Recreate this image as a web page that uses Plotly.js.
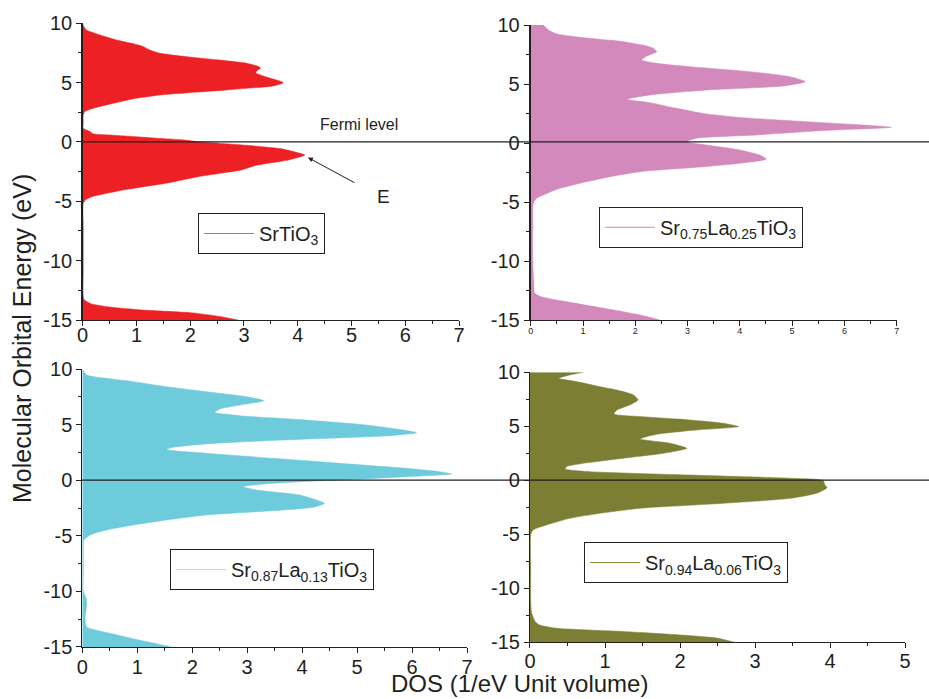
<!DOCTYPE html>
<html>
<head>
<meta charset="utf-8">
<script src="https://cdn.plot.ly/plotly-3.0.1.min.js"></script>
<style>html,body{margin:0;padding:0;background:#fff;}#chart{width:929px;height:699px;}</style>
</head>
<body>
<div id="chart"></div>
<script>
// ---- Data ----
const seriesNames = [
  "SrTiO<sub>3</sub>",
  "Sr<sub>0.75</sub>La<sub>0.25</sub>TiO<sub>3</sub>",
  "Sr<sub>0.87</sub>La<sub>0.13</sub>TiO<sub>3</sub>",
  "Sr<sub>0.94</sub>La<sub>0.06</sub>TiO<sub>3</sub>"
];

const energySrTiO3 = [10, 9.72, 9.44, 9.02, 8.6, 8.31, 8.03, 7.75, 7.47, 7.19,
  6.9, 6.63, 6.35, 6.2, 6.05, 5.84, 5.5, 5.2, 5.0, 4.72,
  4.52, 4.38, 3.96, 3.68, 3.5, 3.26, 2.84, 2.56, 2.2, 1.6,
  1.15, 0.87, 0.7, 0.59, 0.42, 0.3, 0.2, 0.05, -0.28, -0.56,
  -0.81, -1.1, -1.5, -1.8, -2.0, -2.36, -2.92, -3.48, -4.05, -4.33,
  -4.62, -4.89, -5.2, -7, -9, -11, -13.0, -13.3, -13.6, -13.9,
  -14.16, -14.4, -14.7, -15];
const dosSrTiO3 = [0, 0.02, 0.07, 0.32, 0.63, 0.91, 1.13, 1.25, 1.44, 1.93,
  2.55, 3.05, 3.27, 3.31, 3.25, 3.22, 3.4, 3.62, 3.73, 3.54,
  3.05, 2.68, 1.44, 1.0, 0.8, 0.57, 0.2, 0.04, 0.01, 0.01,
  0.01, 0.14, 0.19, 0.5, 1.07, 1.44, 1.8, 2.1, 3.05, 3.67,
  3.92, 4.13, 3.85, 3.45, 3.2, 2.95, 2.15, 1.55, 0.75, 0.45,
  0.17, 0.05, 0.01, 0.01, 0.01, 0.01, 0.01, 0.03, 0.14, 0.5,
  1.13, 2.05, 2.55, 2.89];

const energyLa25 = [10, 9.58, 9.24, 8.87, 8.59, 8.3, 8.02, 7.74, 7.37, 7.03,
  6.75, 6.47, 6.05, 5.62, 5.2, 4.83, 4.49, 4.07, 3.7, 3.42,
  2.94, 2.51, 2.17, 1.81, 1.53, 1.33, 1.05, 0.68, 0.4, 0.11,
  -0.17, -0.59, -1.02, -1.36, -1.72, -2.06, -2.43, -2.85, -3.28, -3.84,
  -4.27, -4.69, -5.11, -7, -10.2, -11.9, -12.7, -13.0, -13.4, -13.8,
  -14.3, -14.7, -15];
const dosLa25 = [0.24, 0.34, 0.5, 1.13, 1.77, 2.15, 2.35, 2.41, 2.22, 2.12,
  2.41, 3.05, 4.19, 4.96, 5.25, 4.83, 3.37, 2.28, 1.84, 2.28,
  2.79, 3.3, 4.0, 5.28, 6.36, 6.9, 5.6, 4.32, 3.17, 2.98,
  3.37, 4.0, 4.38, 4.51, 4.0, 3.17, 2.09, 1.52, 1.07, 0.56,
  0.31, 0.11, 0.05, 0.04, 0.04, 0.06, 0.07, 0.18, 0.62, 1.13,
  1.77, 2.22, 2.47];

const energyLa13 = [10, 9.46, 9.16, 8.86, 8.41, 7.96, 7.51, 7.15, 6.76, 6.4,
  6.1, 5.8, 5.41, 4.96, 4.51, 4.27, 4.0, 3.7, 3.31, 2.96,
  2.75, 2.42, 1.97, 1.52, 1.07, 0.77, 0.56, 0.32, 0.02, -0.28,
  -0.58, -0.88, -1.33, -1.78, -2.08, -2.44, -2.74, -3.13, -3.58, -4.03,
  -4.48, -4.93, -5.38, -5.83, -8, -10.0, -10.6, -11.2, -12.4, -13.2,
  -13.5, -13.9, -14.4, -14.7, -15];
const dosLa13 = [0, 0.08, 0.44, 0.93, 1.53, 2.26, 2.99, 3.3, 2.87, 2.5,
  2.41, 2.87, 4.08, 5.17, 5.84, 6.08, 5.59, 4.08, 2.38, 1.65,
  1.53, 2.26, 3.47, 4.68, 5.9, 6.5, 6.72, 5.9, 4.68, 3.47,
  2.93, 3.17, 3.96, 4.26, 4.41, 4.2, 3.47, 2.26, 1.53, 0.93,
  0.44, 0.14, 0.03, 0.02, 0.02, 0.02, 0.07, 0.08, 0.05, 0.08,
  0.26, 0.62, 1.05, 1.35, 1.62];

const energyLa06 = [10, 9.75, 9.44, 9.14, 8.67, 8.36, 7.9, 7.44, 6.98, 6.51,
  6.14, 5.9, 5.59, 5.28, 4.97, 4.66, 4.26, 3.83, 3.43, 2.96,
  2.5, 2.04, 1.57, 1.27, 1.05, 0.8, 0.49, 0.19, -0.03, -0.43,
  -0.68, -1.2, -1.67, -2.13, -2.59, -3.06, -3.52, -4.14, -4.6, -5.06,
  -8, -11, -12.2, -13.1, -13.4, -13.7, -14.0, -14.3, -14.6, -15];
const dosLa06 = [0.71, 0.53, 0.38, 0.62, 0.93, 1.16, 1.38, 1.44, 1.33, 1.16,
  1.12, 1.47, 2.13, 2.58, 2.78, 2.22, 1.69, 1.47, 1.87, 2.09,
  1.78, 1.24, 0.71, 0.49, 0.47, 0.8, 2.13, 3.47, 3.91, 3.93,
  3.96, 3.82, 3.47, 2.58, 1.47, 0.93, 0.53, 0.22, 0.04, 0.01,
  0.01, 0.01, 0.02, 0.07, 0.13, 0.36, 1.24, 1.96, 2.49, 2.73];

const yTickVals = [10, 5, 0, -5, -10, -15];
const yTickText = ["10", "5", "0", "-5", "-10", "-15"];
const xTickVals7 = [0, 1, 2, 3, 4, 5, 6, 7];
const xTickVals5 = [0, 1, 2, 3, 4, 5];

// ---- Styling ----
const fillColors = ["#ED2024", "#D389BC", "#6DCBDB", "#7C7F33"];
const legendLineColors = ["#F0595C", "#E29ACB", "#A6E0EA", "#8C8F3E"];
const ink = "#231F20";
const font = "Liberation Sans, Arial, sans-serif";

const energies = [energySrTiO3, energyLa25, energyLa13, energyLa06];
const doses = [dosSrTiO3, dosLa25, dosLa13, dosLa06];
const axisIds = [["x", "y"], ["x2", "y2"], ["x3", "y3"], ["x4", "y4"]];
const legendIds = ["legend", "legend2", "legend3", "legend4"];

const traces = [];
for (let i = 0; i < 4; i++) {
  traces.push({
    type: "scatter", mode: "lines",
    x: doses[i], y: energies[i],
    xaxis: axisIds[i][0], yaxis: axisIds[i][1],
    fill: "tozerox", fillcolor: fillColors[i],
    line: {color: fillColors[i], width: 0.5, shape: "spline", smoothing: 0.6},
    showlegend: false, hoverinfo: "skip"
  });
  traces.push({
    type: "scatter", mode: "lines",
    x: [null], y: [null],
    xaxis: axisIds[i][0], yaxis: axisIds[i][1],
    name: seriesNames[i],
    line: {color: legendLineColors[i], width: 1.2},
    legend: legendIds[i], showlegend: true
  });
}

function xax(domain, range, tickvals, size, anchor, standoff) {
  return {
    domain: domain, range: range, anchor: anchor,
    showline: true, linecolor: ink, linewidth: 1,
    ticks: "outside", ticklen: 5, tickcolor: ink, tickwidth: 1,
    tickmode: "array", tickvals: tickvals,
    ticklabelstandoff: standoff,
    minor: {ticks: "outside", ticklen: 3, tickcolor: ink, dtick: 0.5},
    tickfont: {family: font, size: size, color: ink},
    showgrid: false, zeroline: false, fixedrange: true
  };
}
function yax(domain, anchor, lw) {
  return {
    domain: domain, range: [-15, 10], anchor: anchor,
    showline: true, linecolor: ink, linewidth: lw,
    ticks: "outside", ticklen: 5, tickcolor: ink, tickwidth: 1,
    tickmode: "array", tickvals: yTickVals, ticktext: yTickText,
    minor: {ticks: "outside", ticklen: 3, tickcolor: ink, dtick: 2.5},
    tickfont: {family: font, size: 20, color: ink},
    showgrid: false, zeroline: false, fixedrange: true
  };
}
function leg(x, y) {
  return {
    x: x, y: y, xanchor: "left", yanchor: "top",
    xref: "paper", yref: "paper",
    bordercolor: ink, borderwidth: 1, bgcolor: "#fff",
    font: {family: font, size: 20, color: ink},
    itemwidth: 50, tracegroupgap: 0
  };
}

const layout = {
  width: 929, height: 699,
  margin: {l: 0, r: 0, t: 0, b: 0},
  paper_bgcolor: "#fff", plot_bgcolor: "rgba(0,0,0,0)",
  showlegend: true,
  xaxis: xax([0.0890, 0.4941], [0, 7], xTickVals7, 20, "y", -8),
  yaxis: yax([0.5422, 0.9667], "x", 1.5),
  xaxis2: xax([0.5713, 0.9652], [0, 7], xTickVals7, 9, "y2", -3),
  yaxis2: yax([0.5422, 0.9642], "x2", 2),
  xaxis3: xax([0.0886, 0.5027], [0, 7], xTickVals7, 20, "y3", -3),
  yaxis3: yax([0.0744, 0.4721], "x3", 1),
  xaxis4: xax([0.5705, 0.9742], [0, 5], xTickVals5, 20, "y4", -4),
  yaxis4: yax([0.0811, 0.4674], "x4", 1),
  legend: leg(0.2131, 0.6953),
  legend2: leg(0.6448, 0.7039),
  legend3: leg(0.1830, 0.2146),
  legend4: leg(0.6286, 0.2246),
  shapes: [
    {type: "line", xref: "paper", yref: "y", x0: 0.0883, x1: 1.0, y0: 0, y1: 0, line: {color: ink, width: 1.2}},
    {type: "line", xref: "paper", yref: "y3", x0: 0.0883, x1: 1.0, y0: 0, y1: 0, line: {color: ink, width: 1.2}}
  ],
  annotations: [
    {text: "Fermi level", xref: "paper", yref: "paper", x: 0.3864, y: 0.8226, showarrow: false,
     xanchor: "center", yanchor: "middle", font: {family: font, size: 16, color: ink}},
    {text: "E", xref: "paper", yref: "paper", x: 0.4123, y: 0.7182, showarrow: false,
     xanchor: "center", yanchor: "middle", font: {family: font, size: 19, color: ink}},
    {text: "", xref: "x", yref: "y", x: 4.19, y: -1.31, ax: 48, ay: 26, showarrow: true,
     arrowhead: 2, arrowsize: 1, arrowwidth: 1, arrowcolor: ink},
    {text: "Molecular Orbital Energy (eV)", xref: "paper", yref: "paper", x: 0.0237, y: 0.515,
     xanchor: "center", yanchor: "middle",
     textangle: -90, showarrow: false, font: {family: font, size: 25, color: ink}},
    {text: "DOS (1/eV Unit volume)", xref: "paper", yref: "paper", x: 0.5587, y: 0.0,
     xanchor: "center", yanchor: "bottom",
     showarrow: false, font: {family: font, size: 24, color: ink}}
  ]
};

Plotly.newPlot("chart", traces, layout, {displayModeBar: false, staticPlot: true});
</script>
</body>
</html>
